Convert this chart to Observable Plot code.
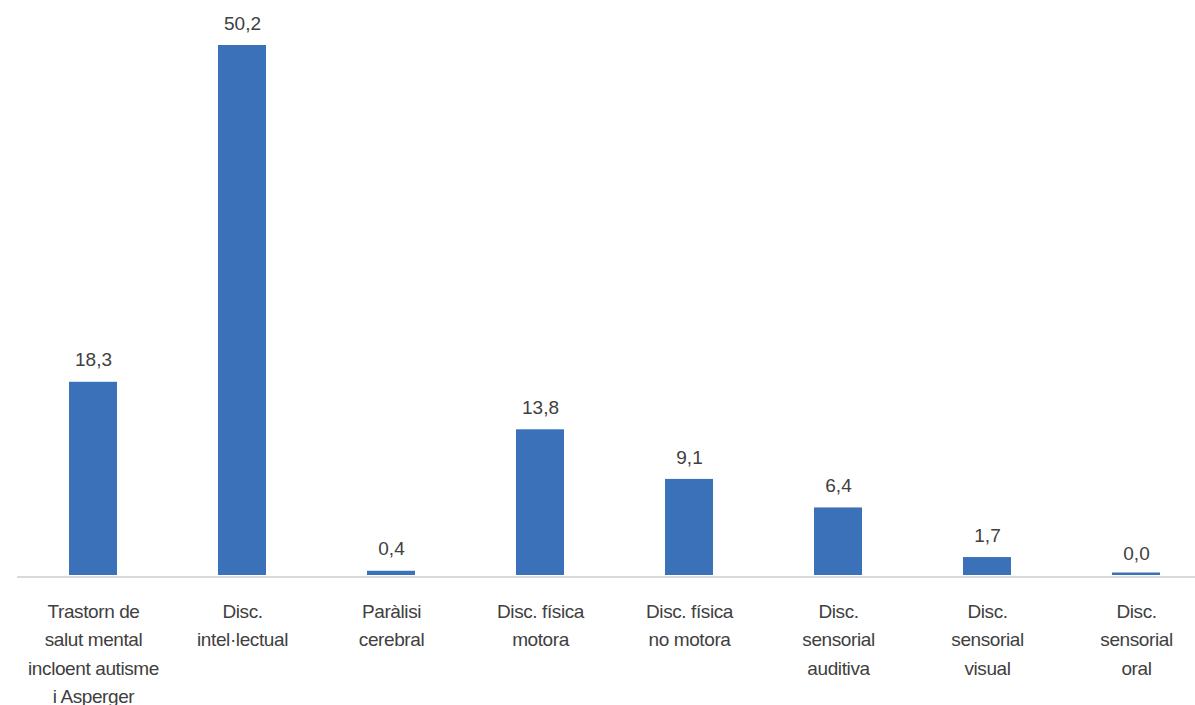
<!DOCTYPE html>
<html>
<head>
<meta charset="utf-8">
<script src="https://cdn.jsdelivr.net/npm/d3@7"></script>
<script src="https://cdn.jsdelivr.net/npm/@observablehq/plot@0.6"></script>
<style>
  html, body { margin: 0; padding: 0; background: #fff; }
  #chart svg { display: block; }
  #chart g.cat text { letter-spacing: -0.4px; }
</style>
</head>
<body>
<div id="chart"></div>
<script>
const categories = [
  "Trastorn de\nsalut mental\nincloent autisme\ni Asperger",
  "Disc.\nintel·lectual",
  "Paràlisi\ncerebral",
  "Disc. física\nmotora",
  "Disc. física\nno motora",
  "Disc.\nsensorial\nauditiva",
  "Disc.\nsensorial\nvisual",
  "Disc.\nsensorial\noral"
];
const values = [18.3, 50.2, 0.4, 13.8, 9.1, 6.4, 1.7, 0.0];

const data = categories.map((c, i) => ({category: c, value: values[i]}));
const fmt = v => d3.format(".1f")(v).replace(".", ",");
const blue = "#3b71b8";
const textColor = "#404040";

const chart = Plot.plot({
  width: 1195,
  height: 705,
  marginLeft: 17,
  marginRight: 0,
  marginTop: 45,
  marginBottom: 130,
  style: {fontFamily: "'Liberation Sans', Arial, sans-serif", background: "#fff"},
  x: {domain: categories, range: [16.85, 1211.25], paddingInner: 0.68, paddingOuter: 0.34, align: 0.5, axis: null},
  y: {domain: [0, 50.2], axis: null},
  marks: [
    Plot.barY(data, {x: "category", y1: 0, y2: 0, insetTop: -2.5, fill: blue}),
    Plot.barY(data, {x: "category", y: "value", fill: blue}),
    Plot.ruleY([0], {stroke: "#d9d9d9", strokeWidth: 2, dy: 1.5}),
    Plot.text(data, {x: "category", y: "value", text: d => fmt(d.value), dy: -22, fill: textColor, fontSize: 19}),
    Plot.text(data, {x: "category", y: 0, text: "category", className: "cat", lineAnchor: "top", dy: 22, fill: textColor, fontSize: 19, lineHeight: 1.5})
  ]
});
document.getElementById("chart").append(chart);
</script>
</body>
</html>
